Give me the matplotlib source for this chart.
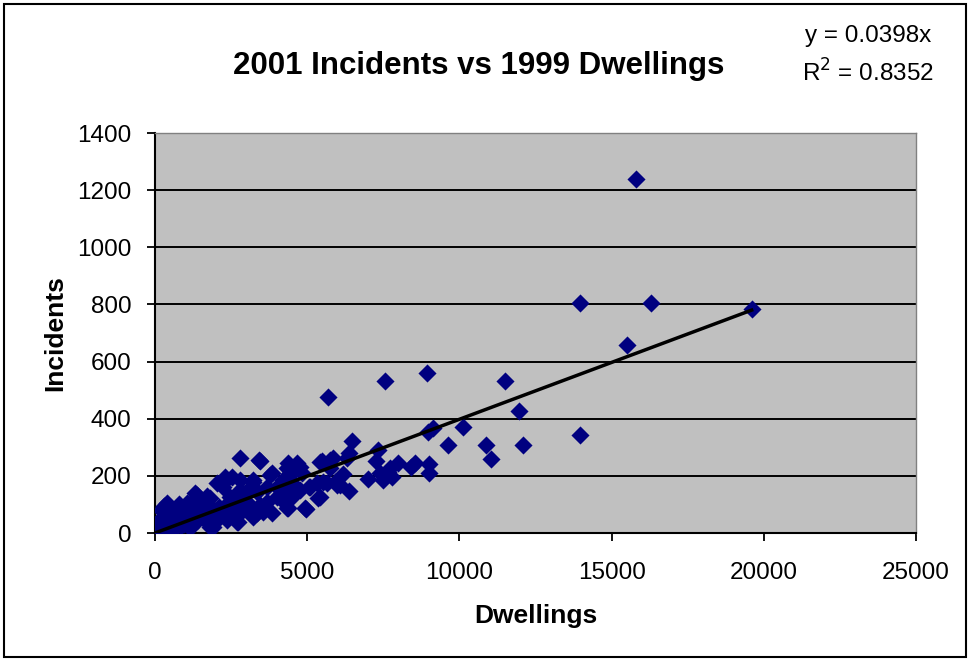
import matplotlib
matplotlib.use("Agg")
import matplotlib.pyplot as plt
from matplotlib.patches import Rectangle
import numpy as np

plt.rcParams['font.family'] = ['Liberation Sans', 'DejaVu Sans']

title = "2001 Incidents vs 1999 Dwellings"
x_label = "Dwellings"
y_label = "Incidents"
eq_text = "y = 0.0398x"
r2_text = "R$^2$ = 0.8352"
slope = 0.0398

x_ticks = [0, 5000, 10000, 15000, 20000, 25000]
y_ticks = [0, 200, 400, 600, 800, 1000, 1200, 1400]

# Dwellings (x) and Incidents (y)
dwellings = [
    15800, 13950, 16300, 19600, 15500, 13950,
    5670, 7570, 8950, 11510, 11970, 10120, 8970, 9120, 9610, 10860, 12100, 11050, 9000, 9000,
    8540, 8400, 7970, 7715, 7660, 7495, 7387, 7256, 7311, 6983, 6457, 6380, 6380, 6183, 5854,
    5473, 5745, 5985, 5525, 5361, 5066, 4947, 4760, 4760, 6293, 7770, 6074,
    3447, 3831, 3227, 4377, 4651, 4432, 4596, 4213, 4651, 5089, 5417, 5745, 5637, 5909,
    4323, 4925, 3831, 4104, 3556, 3339, 3667, 3995, 3339, 3119,
    1369, 2189, 2518, 3775, 4323, 4652, 5417, 2735, 1916, 3119, 3447, 2354, 1750, 985, 492,
    3227, 2790, 1806, 1697,
    2790, 3424, 4816, 4432, 3227, 2790, 3063, 2242, 2462, 4212, 3995, 4487, 4376, 3555,
    3227, 2682, 2354, 3667, 2899, 5309,
    2025, 2298, 1313, 384, 712, 929, 272, 56, 10, 1149, 1806, 492, 2134, 1586, 1040,
    50, 100, 150, 200, 250, 300, 350, 400, 450, 500, 600, 650, 700, 750, 800, 850, 900,
    950, 1000, 1100, 1200, 1250, 1300, 1400, 1500, 1600, 1700, 1800, 1900, 2000, 2100,
    2200, 2300, 2400, 2500, 2600, 2700, 2800, 2900, 3000,
    150, 250, 350, 450, 550, 200, 300, 600, 800, 1000, 1200, 1500, 1700, 1100, 1300,
]
incidents = [
    1240, 805, 805, 785, 658, 343,
    477, 533, 561, 533, 428, 372, 355, 366, 308, 308, 308, 260, 241, 209,
    244, 232, 246, 226, 215, 186, 209, 252, 291, 189, 323, 279, 148, 205, 261,
    252, 226, 168, 180, 121, 162, 84, 232, 150, 261, 195, 168,
    253, 209, 186, 244, 244, 209, 221, 186, 156, 162, 250, 256, 174, 180,
    86, 86, 69, 121, 92, 145, 162, 162, 69, 98,
    133, 170, 197, 203, 226, 238, 127, 40, 22, 69, 98, 69, 92, 46, 22,
    162, 150, 121, 80,
    261, 256, 209, 186, 180, 186, 150, 162, 127, 150, 127, 127, 86, 75,
    57, 40, 46, 110, 80, 174,
    174, 197, 139, 104, 80, 80, 57, 34, 10, 16, 22, 5, 57, 57, 104,
    5, 8, 3, 12, 10, 15, 20, 18, 25, 15, 30, 22, 35, 28, 40, 25, 45,
    30, 50, 40, 55, 35, 60, 45, 70, 50, 75, 60, 85, 55, 90,
    70, 95, 80, 100, 75, 110, 90, 120, 100,
    40, 55, 70, 85, 60, 80, 95, 70, 100, 90, 110, 100, 130, 60, 85,
]

fig = plt.figure(figsize=(9.71, 6.61), dpi=100)
ax = fig.add_axes([155/971, 1 - 533/661, (916-155)/971, (533-133)/661])
ax.set_facecolor('#C0C0C0')

ax.scatter(dwellings, incidents, marker='D', s=85, color='#000080', zorder=3, linewidths=0)
xs = np.array([0, max(dwellings)])
ax.plot(xs, slope * xs, color='black', lw=2.5, zorder=4)

ax.set_xlim(0, 25000)
ax.set_ylim(0, 1400)
ax.set_xticks(x_ticks)
ax.set_yticks(y_ticks)
ax.yaxis.grid(True, color='black', lw=1.4)
ax.set_axisbelow(True)
for s in ['top', 'right']:
    ax.spines[s].set_color('#808080')
    ax.spines[s].set_linewidth(1.0)
for s in ['left', 'bottom']:
    ax.spines[s].set_color('black')
    ax.spines[s].set_linewidth(1.5)
ax.tick_params(axis='both', direction='out', length=6, width=1.3, labelsize=17.5, color='black')
ax.tick_params(axis='x', pad=15)
ax.tick_params(axis='y', pad=11)

ax.set_xlabel(x_label, fontsize=19, fontweight='bold', va='center')
ax.set_ylabel(y_label, fontsize=19, fontweight='bold', va='center')
ax.xaxis.set_label_coords(0.5, (533 - 616) / 400)
ax.yaxis.set_label_coords((55 - 155) / 761, 0.5)

fig.text(479/971, 1 - 66/661, title, ha='center', va='center', fontsize=22.5, fontweight='bold')
fig.text(868/971, 1 - 36/661, eq_text, ha='center', va='center', fontsize=17.5)
fig.text(868/971, 1 - 73/661, r2_text, ha='center', va='center', fontsize=17.5)

fig.patches.append(Rectangle((4/971, 4/661), 962/971, 653/661, transform=fig.transFigure,
                             fill=False, edgecolor='black', lw=1.5))

fig.savefig('out.png', dpi=100, facecolor='white')
